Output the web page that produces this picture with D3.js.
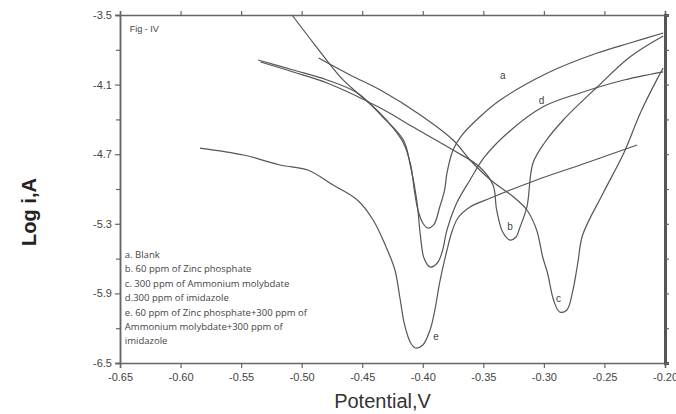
<!DOCTYPE html>
<html>
<head>
<meta charset="utf-8">
<script src="https://cdn.jsdelivr.net/npm/d3@7"></script>
<style>
  body { margin: 0; background: #fff; }
  svg { font-family: "Liberation Sans", Arial, sans-serif; }
</style>
</head>
<body>
<div id="chart"></div>
<script>
// Tafel curves, potential (V) vs log i (A)
const curveA = [[-0.508,-3.50],[-0.489,-3.759],[-0.468,-4.035],[-0.452,-4.190],[-0.438,-4.319],[-0.4245,-4.474],[-0.416,-4.603],[-0.410,-4.793],[-0.407,-5.009],[-0.404,-5.181],[-0.400,-5.293],[-0.396,-5.336],[-0.391,-5.310],[-0.386,-5.155],[-0.382,-5.009],[-0.380,-4.862],[-0.375,-4.664],[-0.3675,-4.534],[-0.353,-4.379],[-0.336,-4.233],[-0.297,-4.000],[-0.256,-3.828],[-0.229,-3.741],[-0.2015,-3.655]];
const curveB = [[-0.534,-3.905],[-0.507,-3.991],[-0.479,-4.086],[-0.435,-4.302],[-0.408,-4.466],[-0.375,-4.664],[-0.353,-4.810],[-0.342,-4.966],[-0.339,-5.181],[-0.334,-5.371],[-0.328,-5.440],[-0.323,-5.414],[-0.320,-5.336],[-0.314,-5.155],[-0.309,-4.776],[-0.299,-4.595],[-0.284,-4.405],[-0.256,-4.121],[-0.229,-3.862],[-0.2015,-3.681]];
const curveC = [[-0.486,-3.871],[-0.460,-4.017],[-0.435,-4.147],[-0.402,-4.362],[-0.375,-4.578],[-0.361,-4.750],[-0.344,-4.922],[-0.325,-5.069],[-0.314,-5.181],[-0.306,-5.353],[-0.301,-5.586],[-0.297,-5.724],[-0.292,-5.957],[-0.287,-6.060],[-0.281,-6.043],[-0.276,-5.871],[-0.272,-5.638],[-0.268,-5.397],[-0.251,-5.034],[-0.234,-4.690],[-0.220,-4.336],[-0.206,-4.043],[-0.2015,-3.957]];
const curveD = [[-0.536,-3.888],[-0.507,-3.974],[-0.479,-4.060],[-0.454,-4.172],[-0.433,-4.379],[-0.416,-4.578],[-0.410,-4.810],[-0.405,-5.095],[-0.402,-5.397],[-0.399,-5.595],[-0.394,-5.672],[-0.388,-5.638],[-0.384,-5.543],[-0.380,-5.353],[-0.372,-5.121],[-0.361,-4.922],[-0.349,-4.724],[-0.330,-4.517],[-0.301,-4.293],[-0.270,-4.172],[-0.237,-4.069],[-0.2015,-3.991]];
const curveE = [[-0.584,-4.647],[-0.548,-4.707],[-0.518,-4.793],[-0.495,-4.836],[-0.474,-4.966],[-0.454,-5.095],[-0.441,-5.267],[-0.431,-5.483],[-0.423,-5.698],[-0.419,-5.931],[-0.415,-6.172],[-0.410,-6.328],[-0.406,-6.371],[-0.400,-6.345],[-0.394,-6.216],[-0.390,-6.043],[-0.386,-5.802],[-0.380,-5.526],[-0.376,-5.371],[-0.371,-5.250],[-0.361,-5.155],[-0.344,-5.078],[-0.306,-4.922],[-0.270,-4.793],[-0.223,-4.621]];

const curveNames = ["a", "b", "c", "d", "e"];
const curveLabelPos = [[-0.334,-4.05],[-0.328,-5.35],[-0.288,-5.97],[-0.302,-4.27],[-0.389,-6.30]];

const legendLines = [
  "a. Blank",
  "b. 60 ppm of Zinc phosphate",
  "c. 300 ppm of Ammonium molybdate",
  "d.300 ppm of imidazole",
  "e. 60 ppm of Zinc phosphate+300 ppm of",
  "Ammonium molybdate+300 ppm of",
  "imidazole"
];

const xTicks = [-0.65,-0.60,-0.55,-0.50,-0.45,-0.40,-0.35,-0.30,-0.25,-0.20];
const yTicks = [-3.5,-4.1,-4.7,-5.3,-5.9,-6.5];
const yMinorTicks = [-3.8,-4.4,-5.0,-5.6,-6.2];

const width = 676, height = 414;
const margin = {left: 120, right: 11, top: 15, bottom: 51};

const svg = d3.select("#chart").append("svg")
  .attr("width", width)
  .attr("height", height);

const x = d3.scaleLinear().domain([-0.65, -0.20]).range([margin.left, width - margin.right]);
const y = d3.scaleLinear().domain([-6.5, -3.5]).range([height - margin.bottom, margin.top]);

const axisColor = "#666";
const textColor = "#444";

// bottom axis
const gx = svg.append("g")
  .attr("transform", `translate(0,${y(-6.5)})`)
  .call(d3.axisBottom(x).tickValues(xTicks).tickSize(5).tickFormat(d => d.toFixed(2)));
// top axis (mirror, no labels)
const gxTop = svg.append("g")
  .attr("transform", `translate(0,${y(-3.5)})`)
  .call(d3.axisTop(x).tickValues(xTicks).tickSize(4).tickFormat(""));
// left axis
const gy = svg.append("g")
  .attr("transform", `translate(${x(-0.65)},0)`)
  .call(d3.axisLeft(y).tickValues(yTicks).tickSize(5).tickFormat(d => d.toFixed(1)));
const gyMinor = svg.append("g")
  .attr("transform", `translate(${x(-0.65)},0)`)
  .call(d3.axisLeft(y).tickValues(yMinorTicks).tickSize(4).tickFormat(""));
// right axis
const gyRight = svg.append("g")
  .attr("transform", `translate(${x(-0.20)},0)`)
  .call(d3.axisRight(y).tickValues(yTicks.concat(yMinorTicks)).tickSize(4).tickFormat(""));

[gx, gxTop, gy, gyMinor, gyRight].forEach(g => {
  g.select(".domain").attr("stroke", axisColor).attr("stroke-width", 1.5);
  g.selectAll(".tick line").attr("stroke", axisColor).attr("stroke-width", 1.2);
  g.selectAll(".tick text").attr("fill", textColor).attr("font-size", 11)
    .attr("font-family", "Liberation Sans, Arial, sans-serif");
});
gyRight.select(".domain").attr("stroke", "#555").attr("stroke-width", 3);
gx.selectAll(".tick text").attr("dy", "0.9em");

// axis titles
svg.append("text")
  .attr("x", (x(-0.65) + x(-0.20)) / 2 - 10)
  .attr("y", 408)
  .attr("text-anchor", "middle")
  .attr("font-size", 20)
  .attr("fill", "#333")
  .text("Potential,V");

svg.append("text")
  .attr("transform", `translate(36,212) rotate(-90)`)
  .attr("text-anchor", "middle")
  .attr("font-size", 20)
  .attr("font-weight", "bold")
  .attr("fill", "#222")
  .text("Log i,A");

svg.append("text")
  .attr("x", x(-0.642))
  .attr("y", y(-3.65))
  .attr("font-size", 9)
  .attr("fill", textColor)
  .text("Fig - IV");

// curves
const line = d3.line()
  .x(d => x(d[0]))
  .y(d => y(d[1]))
  .curve(d3.curveCatmullRom.alpha(0.5));

const curves = [curveA, curveB, curveC, curveD, curveE];
svg.append("g")
  .selectAll("path")
  .data(curves)
  .enter().append("path")
  .attr("d", line)
  .attr("fill", "none")
  .attr("stroke", "#555")
  .attr("stroke-width", 1.2);

// curve letters
svg.append("g")
  .selectAll("text")
  .data(curveNames)
  .enter().append("text")
  .attr("x", (d, i) => x(curveLabelPos[i][0]))
  .attr("y", (d, i) => y(curveLabelPos[i][1]))
  .attr("text-anchor", "middle")
  .attr("font-size", 10)
  .attr("fill", textColor)
  .text(d => d);

// legend text
svg.append("g")
  .selectAll("text")
  .data(legendLines)
  .enter().append("text")
  .attr("x", x(-0.646))
  .attr("y", (d, i) => 258 + i * 14.4)
  .attr("font-size", 9.5)
  .attr("font-family", "Open Sans, sans-serif")
  .attr("fill", textColor)
  .text(d => d);
</script>
</body>
</html>
